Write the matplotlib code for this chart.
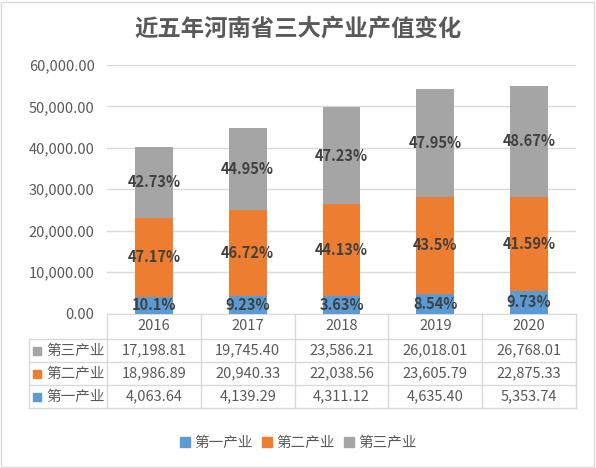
import matplotlib
matplotlib.use("Agg")
import matplotlib.pyplot as plt
from matplotlib.transforms import blended_transform_factory
from matplotlib.lines import Line2D
from matplotlib.patches import Rectangle
import numpy as np

plt.rcParams['font.family'] = ['Noto Sans CJK SC', 'DejaVu Sans']

title = "近五年河南省三大产业产值变化"
years = ["2016", "2017", "2018", "2019", "2020"]
series_names = ["第一产业", "第二产业", "第三产业"]
primary = [4063.64, 4139.29, 4311.12, 4635.40, 5353.74]
secondary = [18986.89, 20940.33, 22038.56, 23605.79, 22875.33]
tertiary = [17198.81, 19745.40, 23586.21, 26018.01, 26768.01]
primary_pct = ["10.1%", "9.23%", "3.63%", "8.54%", "9.73%"]
secondary_pct = ["47.17%", "46.72%", "44.13%", "43.5%", "41.59%"]
tertiary_pct = ["42.73%", "44.95%", "47.23%", "47.95%", "48.67%"]
yticks = [0, 10000, 20000, 30000, 40000, 50000, 60000]

colors = ["#5B9BD5", "#ED7D31", "#A5A5A5"]
txt = "#595959"
grid = "#D9D9D9"

W, H = 596, 468
fig = plt.figure(figsize=(W/100, H/100), dpi=100)
fig.patch.set_facecolor("white")
fig.add_artist(Rectangle((1/W, 1/H), (W-3)/W, (H-3)/H, transform=fig.transFigure,
                         fill=False, edgecolor="#D9D9D9", lw=1))

left, right, bottom, top = 107, 576, 313.5, 65
ax = fig.add_axes([left/W, 1-bottom/H, (right-left)/W, (bottom-top)/H])

x = np.arange(len(years))
bw = 0.405
data = [primary, secondary, tertiary]
labels = [primary_pct, secondary_pct, tertiary_pct]
base = np.zeros(len(years))
for vals, c, labs in zip(data, colors, labels):
    vals = np.array(vals)
    ax.bar(x, vals, bw, bottom=base, color=c, zorder=3)
    for xi, b, v, l in zip(x, base, vals, labs):
        ax.text(xi, b + v/2, l, ha="center", va="center", fontsize=10.5,
                fontweight="bold", color="#404040", zorder=5)
    base = base + vals

ax.set_xlim(-0.5, len(years)-0.5)
ax.set_ylim(0, 60000)
ax.set_yticks(yticks)
ax.set_yticklabels([f"{v:,.2f}" for v in yticks], color=txt, fontsize=10.5)
ax.tick_params(axis="y", length=0, pad=9)
ax.tick_params(axis="x", length=0, labelbottom=False)
ax.yaxis.grid(True, color=grid, lw=1, zorder=0)
for s in ["left", "right", "top"]:
    ax.spines[s].set_visible(False)
ax.spines["bottom"].set_color(grid)

# data table
trans = blended_transform_factory(ax.transData, ax.transAxes)
axh = bottom - top
def fy(px):
    return (bottom - px) / axh
row_lines = [339, 362, 385, 408]
x_left = -0.5 - (left - 29) / (right - left) * len(years)
for yl in row_lines:
    ax.add_line(Line2D([x_left, len(years)-0.5], [fy(yl), fy(yl)], transform=trans,
                       color=grid, lw=1, clip_on=False))
for xb in np.arange(len(years)+1) - 0.5:
    ax.add_line(Line2D([xb, xb], [0, fy(408)], transform=trans,
                       color=grid, lw=1, clip_on=False))
ax.add_line(Line2D([x_left, x_left], [fy(339), fy(408)], transform=trans,
                   color=grid, lw=1, clip_on=False))

for xi, yr in zip(x, years):
    ax.text(xi, fy(326.5), yr, transform=trans, ha="center", va="center",
            fontsize=10.5, color=txt, clip_on=False)

rows = [(series_names[2], tertiary, colors[2]),
        (series_names[1], secondary, colors[1]),
        (series_names[0], primary, colors[0])]
centers = [350.5, 373.5, 396.5]
lab_x = -0.5 - (left - 105) / (right - left) * len(years)
sq_x = -0.5 - (left - 37) / (right - left) * len(years)
for (name, vals, c), cy in zip(rows, centers):
    ax.text(lab_x, fy(cy), name, transform=trans, ha="right", va="center",
            fontsize=10.5, color=txt, clip_on=False)
    ax.plot([sq_x], [fy(cy)], marker="s", ms=6, color=c, transform=trans,
            clip_on=False, linestyle="none")
    for xi, v in zip(x, vals):
        ax.text(xi, fy(cy), f"{v:,.2f}", transform=trans, ha="center", va="center",
                fontsize=10.5, color=txt, clip_on=False)

fig.text(0.5, 1-29/H, title, ha="center", va="center", fontsize=16.8,
         fontweight="bold", color=txt)

handles = [Line2D([], [], marker="s", ms=7, color=c, linestyle="none") for c in colors]
fig.legend(handles, series_names, loc="center", bbox_to_anchor=(0.5, 1-443/H),
           ncol=3, frameon=False, fontsize=10.5, labelcolor=txt,
           handletextpad=0.2, columnspacing=0.6, handlelength=0.8)

fig.savefig("out.png", dpi=100, facecolor="white")
